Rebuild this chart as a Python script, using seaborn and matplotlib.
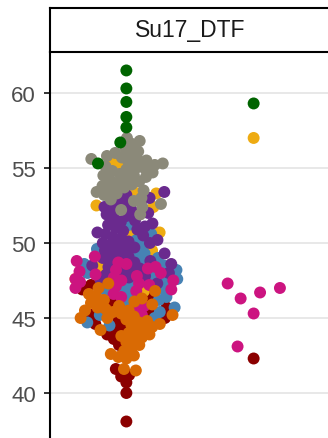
import matplotlib
matplotlib.use("Agg")
import matplotlib.pyplot as plt
import numpy as np
import pandas as pd
import seaborn as sns

# environments on the x axis
envs = ["E1", "E2"]

# days to flowering per cluster, environment 1
e1_darkred = [47.2, 46.9, 46.4, 46.0, 45.7, 45.4, 45.2, 45.0, 44.8, 44.6, 44.4,
              44.2, 43.9, 43.6, 43.2, 41.6, 41.2, 41.1, 40.7, 40.0, 38.1]
e1_gold = [55.4, 55.2, 53.4, 53.3, 52.5, 52.4, 50.7, 50.6, 49.5, 48.4, 47.6, 46.8]
e1_blue = [51.2, 50.6, 50.2, 49.8, 49.6, 49.3, 49.2, 49.0, 48.8, 48.5, 48.2, 48.0,
           47.8, 47.6, 47.4, 47.2, 47.0, 46.8, 46.6, 46.4, 46.2, 46.0, 45.7, 45.4,
           45.2, 45.0, 44.7, 44.5, 46.9, 48.6]
e1_purple = [53.4, 53.2, 53.0, 52.8, 52.6, 52.4, 52.3, 52.2, 52.0, 51.9, 51.8, 51.7,
             51.5, 51.4, 51.3, 51.2, 51.1, 51.0, 50.9, 50.8, 50.7, 50.6, 50.5, 50.4,
             50.3, 50.2, 50.1, 50.0, 50.0, 49.9, 49.8, 49.7, 49.6, 49.5, 49.4, 49.3,
             49.2, 49.1, 49.0, 48.9, 48.8, 48.7, 48.6, 48.5, 48.4, 48.3, 48.2, 48.1,
             48.0, 47.9, 47.8, 47.7, 47.5, 47.3]
e1_gray = [57.0, 56.8, 56.6, 56.3, 56.1, 56.0, 55.9, 55.8, 55.7, 55.6, 55.5, 55.5,
           55.4, 55.3, 55.2, 55.1, 55.0, 55.0, 54.9, 54.8, 54.7, 54.6, 54.5, 54.5,
           54.4, 54.3, 54.2, 54.1, 54.0, 53.9, 53.8, 53.7, 53.6, 53.5, 53.4, 53.3,
           53.2, 53.0, 52.9, 52.8, 52.6, 52.4, 52.2, 51.9]
e1_green = [61.5, 60.3, 59.4, 58.4, 57.7, 56.7, 55.3]
e1_magenta = [49.1, 48.8, 48.7, 48.6, 48.4, 48.3, 48.2, 48.1, 48.0, 47.9, 47.8,
              47.7, 47.6, 47.5, 47.5, 47.4, 47.3, 47.2, 47.1, 47.0, 46.9, 46.8,
              46.6, 46.4, 45.8, 45.6, 45.2]
e1_orange = [47.3, 47.0, 46.8, 46.6, 46.4, 46.3, 46.2, 46.1, 46.0, 45.9, 45.8, 45.7,
             45.6, 45.5, 45.5, 45.4, 45.3, 45.2, 45.1, 45.0, 45.0, 44.9, 44.8, 44.7,
             44.6, 44.5, 44.4, 44.3, 44.2, 44.1, 44.0, 43.9, 43.8, 43.7, 43.6, 43.4,
             43.2, 43.0, 42.8, 42.6, 42.5, 42.4, 42.3, 41.6, 41.5]

# environment 2
e2_green = [59.3]
e2_gold = [57.0]
e2_magenta = [47.3, 47.0, 46.7, 46.3, 45.3, 43.1]
e2_darkred = [42.3]

palette = {
    "darkred": "#8B0000", "gold": "#EEAB12", "blue": "#4682B4",
    "purple": "#6A2A8E", "gray": "#8B8979", "green": "#006400",
    "magenta": "#CC1480", "orange": "#D96A04",
}
clusters = list(palette.keys())

e1 = [("darkred", e1_darkred), ("gold", e1_gold), ("blue", e1_blue),
      ("purple", e1_purple), ("gray", e1_gray), ("green", e1_green),
      ("magenta", e1_magenta), ("orange", e1_orange)]
e2 = [("green", e2_green), ("gold", e2_gold), ("magenta", e2_magenta),
      ("darkred", e2_darkred)]

rows = []
for env, series in [("E1", e1), ("E2", e2)]:
    for name, vals in series:
        rows += [(env, name, v) for v in vals]
df = pd.DataFrame(rows, columns=["env", "cluster", "dtf"])

sns.set_theme(style="white")
plt.rcParams["font.family"] = ["Liberation Sans", "DejaVu Sans"]

W, H = 328, 439
fig = plt.figure(figsize=(W / 100, H / 100), dpi=100)
ax = fig.add_axes([50 / W, 0, 280 / W, (H - 53) / H])

# swarm is laid out with a small marker, then drawn with the real size
# so the points overlap like the original
for env, layout_size in [("E1", 5.6), ("E2", 14)]:
    sns.swarmplot(data=df[df["env"] == env], x="env", y="dtf", hue="cluster",
                  hue_order=clusters, palette=palette, order=envs,
                  size=layout_size, linewidth=0, legend=False, ax=ax,
                  warn_thresh=1)
    ax.set_xlim(-0.6, 1.6)
    ax.set_ylim(37, 62.73)
    fig.canvas.draw()
    for coll in ax.collections:
        coll.__dict__.pop("draw", None)
        coll.set_sizes([8.6 ** 2])

ax.set_xlim(-0.6, 1.6)
ax.set_ylim(37, 62.73)
ax.set_yticks([40, 45, 50, 55, 60])
ax.set_xticks([])
ax.set_xlabel("")
ax.set_ylabel("")
ax.yaxis.grid(True, color="#E6E6E6", linewidth=1.3)
ax.set_axisbelow(True)
for side in ["top", "right", "bottom"]:
    ax.spines[side].set_visible(False)
ax.spines["left"].set_color("black")
ax.spines["left"].set_linewidth(1.5)
ax.tick_params(axis="y", left=True, length=4.5, width=1.4, color="#333333",
               labelsize=16, labelcolor="#4D4D4D", pad=5.5)

strip = fig.add_axes([50 / W, (H - 53) / H, 280 / W, 44 / H])
strip.set_xticks([])
strip.set_yticks([])
for s in strip.spines.values():
    s.set_color("black")
    s.set_linewidth(1.5)
strip.text(0.5, 0.5, "Su17_DTF", ha="center", va="center",
           fontsize=16.5, color="#1A1A1A", transform=strip.transAxes)

fig.savefig("out.png", dpi=100)
